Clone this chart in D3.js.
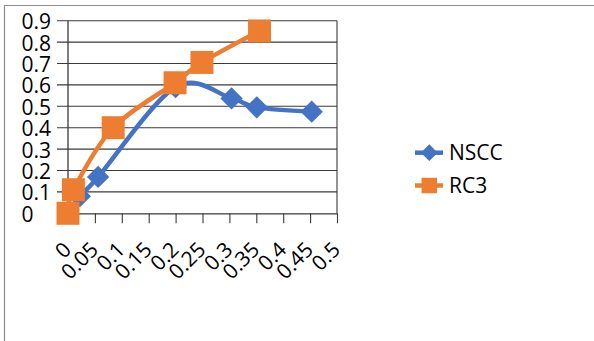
<!DOCTYPE html>
<html>
<head>
<meta charset="utf-8">
<script src="https://cdn.jsdelivr.net/npm/d3@7"></script>
<style>
  html, body { margin: 0; padding: 0; background: #fff; }
  svg { display: block; }
  text { font-family: "Open Sans", "Liberation Sans", sans-serif; fill: #000; }
</style>
</head>
<body>
<svg id="chart" width="594" height="341"></svg>
<script>
// Series data: [x, y]
const seriesNames = ["NSCC", "RC3"];
const nsccX = [0, 0.022, 0.056, 0.2, 0.304, 0.351, 0.453];
const nsccY = [0, 0.08, 0.17, 0.59, 0.537, 0.495, 0.475];
const rc3X = [0, 0.01, 0.084, 0.199, 0.249, 0.356];
const rc3Y = [0, 0.11, 0.4, 0.61, 0.705, 0.852];
const xTicks = [0, 0.05, 0.1, 0.15, 0.2, 0.25, 0.3, 0.35, 0.4, 0.45, 0.5];
const yTicks = [0, 0.1, 0.2, 0.3, 0.4, 0.5, 0.6, 0.7, 0.8, 0.9];
const colors = ["#4472C4", "#ED7D31"];

const svg = d3.select("#chart");

// outer frame
svg.append("path")
  .attr("d", "M4.5,341 L4.5,5.5 L594,5.5")
  .attr("fill", "none").attr("stroke", "#8c8c8c").attr("stroke-width", 1.2);

const x = d3.scaleLinear().domain([0, 0.5]).range([68, 337]);
const y = d3.scaleLinear().domain([0, 0.9]).range([213.3, 20.7]);

// horizontal gridlines with outward ticks
svg.append("g").selectAll("line").data(yTicks.slice(1)).join("line")
  .attr("x1", 57).attr("x2", 337)
  .attr("y1", d => y(d)).attr("y2", d => y(d))
  .attr("stroke", "#3a3a3a").attr("stroke-width", 1.1);

// right edge of plot
svg.append("line")
  .attr("x1", 337).attr("x2", 337).attr("y1", y(0.9)).attr("y2", y(0))
  .attr("stroke", "#3a3a3a").attr("stroke-width", 1.1);

// y axis line
svg.append("line")
  .attr("x1", 68).attr("x2", 68).attr("y1", y(0.9)).attr("y2", y(0))
  .attr("stroke", "#3a3a3a").attr("stroke-width", 1.3);

// x axis via d3
const xAxis = d3.axisBottom(x).tickValues(xTicks).tickSize(10).tickSizeOuter(0).tickFormat("");
const gx = svg.append("g").attr("transform", `translate(0,${y(0)})`).call(xAxis);
gx.select(".domain").attr("stroke", "#3a3a3a").attr("stroke-width", 1.3);
gx.selectAll(".tick line").attr("stroke", "#3a3a3a").attr("stroke-width", 1.1);

// y tick at 0
svg.append("line").attr("x1", 57).attr("x2", 68).attr("y1", y(0)).attr("y2", y(0))
  .attr("stroke", "#3a3a3a").attr("stroke-width", 1.1);

// y labels
svg.append("g").selectAll("text").data(yTicks).join("text")
  .attr("x", 21.5).attr("y", d => y(d)).attr("dy", "0.4em")
  .attr("font-size", 21)
  .text(d => d3.format("")(d));

// x labels rotated
svg.append("g").selectAll("text").data(xTicks).join("text")
  .attr("text-anchor", "end")
  .attr("font-size", 21)
  .attr("transform", d => `translate(${x(d) + 4.5},251) rotate(-45)`)
  .text(d => d3.format("")(d));

const line = d3.line().x(d => x(d[0])).y(d => y(d[1])).curve(d3.curveCardinal.tension(0));

const nssc = nsccX.map((v, i) => [v, nsccY[i]]);
const rc3 = rc3X.map((v, i) => [v, rc3Y[i]]);

const diamond = d3.symbol().type(d3.symbolSquare);

function drawSeries(data, color, isDiamond) {
  const g = svg.append("g");
  g.append("path").datum(data).attr("d", line)
    .attr("fill", "none").attr("stroke", color).attr("stroke-width", 4.5)
    .attr("stroke-linejoin", "round");
  g.selectAll("path.m").data(data).join("path").attr("class", "m")
    .attr("d", isDiamond ? diamond.size(250)() : diamond.size(529)())
    .attr("transform", d => `translate(${x(d[0])},${y(d[1])})` + (isDiamond ? " rotate(45)" : ""))
    .attr("fill", color);
}
drawSeries(nssc, colors[0], true);
drawSeries(rc3, colors[1], false);

// legend
const legendY = [152.7, 185.5];
seriesNames.forEach((name, i) => {
  const g = svg.append("g");
  g.append("line").attr("x1", 415).attr("x2", 443).attr("y1", legendY[i]).attr("y2", legendY[i])
    .attr("stroke", colors[i]).attr("stroke-width", 4.5);
  g.append("path")
    .attr("d", i === 0 ? diamond.size(140)() : diamond.size(240)())
    .attr("transform", `translate(429.3,${legendY[i]})` + (i === 0 ? " rotate(45)" : ""))
    .attr("fill", colors[i]);
  g.append("text").attr("x", 449).attr("y", legendY[i]).attr("dy", "0.37em")
    .attr("font-size", 21).text(name);
});
</script>
</body>
</html>
